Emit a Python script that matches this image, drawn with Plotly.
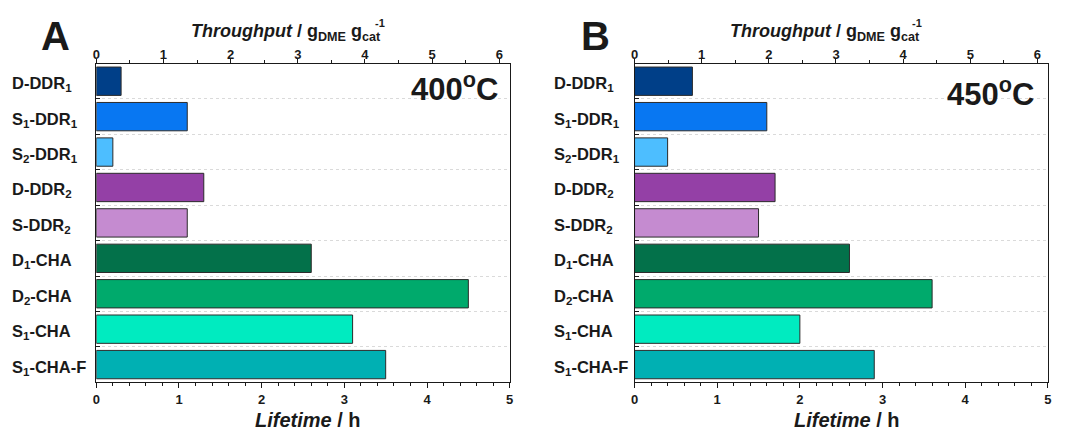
import plotly.graph_objects as go

# Catalyst samples, listed top to bottom
categories = ["D-DDR1", "S1-DDR1", "S2-DDR1", "D-DDR2", "S-DDR2",
              "D1-CHA", "D2-CHA", "S1-CHA", "S1-CHA-F"]
category_labels = ["D-DDR<sub>1</sub>", "S<sub>1</sub>-DDR<sub>1</sub>", "S<sub>2</sub>-DDR<sub>1</sub>",
                   "D-DDR<sub>2</sub>", "S-DDR<sub>2</sub>", "D<sub>1</sub>-CHA", "D<sub>2</sub>-CHA",
                   "S<sub>1</sub>-CHA", "S<sub>1</sub>-CHA-F"]
bar_colors = ["#003F88", "#0877F2", "#4DBEFF", "#9440A6", "#C58BD0",
              "#03714A", "#00AA6C", "#00EBC0", "#00B0B3"]

# Catalyst lifetime (h)
lifetime_400 = [0.30, 1.10, 0.20, 1.30, 1.10, 2.60, 4.50, 3.10, 3.50]
lifetime_450 = [0.70, 1.60, 0.40, 1.70, 1.50, 2.60, 3.60, 2.00, 2.90]

lifetime_ticks = [0, 1, 2, 3, 4, 5]
throughput_ticks = [0, 1, 2, 3, 4, 5, 6]

W, H = 1071, 430
FONT = "Liberation Sans, Arial, sans-serif"
INK = "#1a1a1a"


def px_x(p):
    return p / W


def px_y(p):
    return 1 - p / H


dom_y = [px_y(382.3), px_y(63.5)]
dom_a = [px_x(93.0), px_x(509.5)]
dom_b = [px_x(635.3), px_x(1051.7)]

fig = go.Figure()

for lifetime, xa, ya in [(lifetime_400, "x", "y"), (lifetime_450, "x3", "y2")]:
    fig.add_trace(go.Bar(
        x=lifetime, y=categories, orientation="h", xaxis=xa, yaxis=ya,
        width=0.8, marker=dict(color=bar_colors, line=dict(color="#2b2b2b", width=1)),
        showlegend=False, hoverinfo="x+y",
    ))

# empty traces keep the top throughput axes drawn
fig.add_trace(go.Scatter(x=[], y=[], xaxis="x2", yaxis="y", showlegend=False))
fig.add_trace(go.Scatter(x=[], y=[], xaxis="x4", yaxis="y2", showlegend=False))

tick_font = dict(family=FONT, size=13, color=INK, weight="bold")

bottom_axis = dict(
    range=[0, 5], tickvals=lifetime_ticks, ticks="outside", ticklen=5, tickwidth=1,
    tickcolor=INK, showline=True, linecolor=INK, linewidth=1, showgrid=False,
    zeroline=False, tickfont=tick_font,
    minor=dict(dtick=0.2, ticks="outside", ticklen=3, tickcolor=INK, showgrid=False),
)
top_axis = dict(
    range=[0, 6.155], tickvals=throughput_ticks, ticks="outside", ticklen=4, tickwidth=1,
    tickcolor=INK, showline=True, linecolor=INK, linewidth=1, showgrid=False,
    zeroline=False, side="top", tickfont=tick_font,
    ticklabelposition="outside", ticklabelstandoff=-6,
    minor=dict(dtick=0.5, ticks="outside", ticklen=3, tickcolor=INK, showgrid=False),
)
cat_axis = dict(
    type="category", categoryorder="array", categoryarray=categories,
    autorange="reversed", tickson="boundaries", ticks="inside", ticklen=4,
    tickcolor=INK, showticklabels=False, showline=True, mirror=True,
    linecolor=INK, linewidth=1, showgrid=True, gridcolor="#dadada",
    griddash="dot", gridwidth=1, zeroline=False,
)

fig.update_layout(
    width=W, height=H, margin=dict(l=0, r=0, t=0, b=0),
    paper_bgcolor="white", plot_bgcolor="white", bargap=0.2,
    font=dict(family=FONT, color=INK),
    xaxis=dict(bottom_axis, domain=dom_a, anchor="y"),
    xaxis2=dict(top_axis, domain=dom_a, anchor="y", overlaying="x"),
    yaxis=dict(cat_axis, domain=dom_y, anchor="x"),
    xaxis3=dict(bottom_axis, domain=dom_b, anchor="y2"),
    xaxis4=dict(top_axis, domain=dom_b, anchor="y2", overlaying="x3"),
    yaxis2=dict(cat_axis, domain=dom_y, anchor="x3"),
)

ann = []
bold = dict(family=FONT, color=INK, weight="bold")

# category names, left aligned
for yref, xleft in [("y", 6), ("y2", 552)]:
    for cat, lab in zip(categories, category_labels):
        ann.append(dict(x=px_x(xleft), y=cat, xref="paper", yref=yref, text=lab,
                        showarrow=False, xanchor="left", yanchor="middle", yshift=-3,
                        font=dict(bold, size=16.5)))

panels = [
    dict(letter="A", lx=52, temp="400<sup>o</sup>C", tx=500, ty=102, title_x=284.5, sup_x=372,
         life_x=306),
    dict(letter="B", lx=596, temp="450<sup>o</sup>C", tx=1040, ty=107, title_x=827, sup_x=913,
         life_x=849),
]
for p in panels:
    ann.append(dict(x=px_x(p["lx"]), y=px_y(36), xref="paper", yref="paper", text=p["letter"],
                    showarrow=False, xanchor="center", yanchor="middle",
                    font=dict(bold, size=40)))
    ann.append(dict(x=px_x(p["tx"]), y=px_y(p["ty"]), xref="paper", yref="paper", text=p["temp"],
                    showarrow=False, xanchor="right", yanchor="bottom", yshift=-7,
                    font=dict(bold, size=31)))
    ann.append(dict(x=px_x(p["title_x"]), y=px_y(32), xref="paper", yref="paper",
                    text="<i>Throughput</i> / g<sub>DME</sub> g<sub>cat</sub>",
                    showarrow=False, xanchor="center", yanchor="middle",
                    font=dict(bold, size=18)))
    ann.append(dict(x=px_x(p["sup_x"]), y=px_y(23), xref="paper", yref="paper", text="-1",
                    showarrow=False, xanchor="left", yanchor="middle",
                    font=dict(bold, size=11)))
    ann.append(dict(x=px_x(p["life_x"]), y=px_y(420), xref="paper", yref="paper",
                    text="<i>Lifetime</i> / h", showarrow=False, xanchor="center",
                    yanchor="middle", font=dict(bold, size=20)))

fig.update_layout(annotations=ann)
fig.write_html("out.html")
